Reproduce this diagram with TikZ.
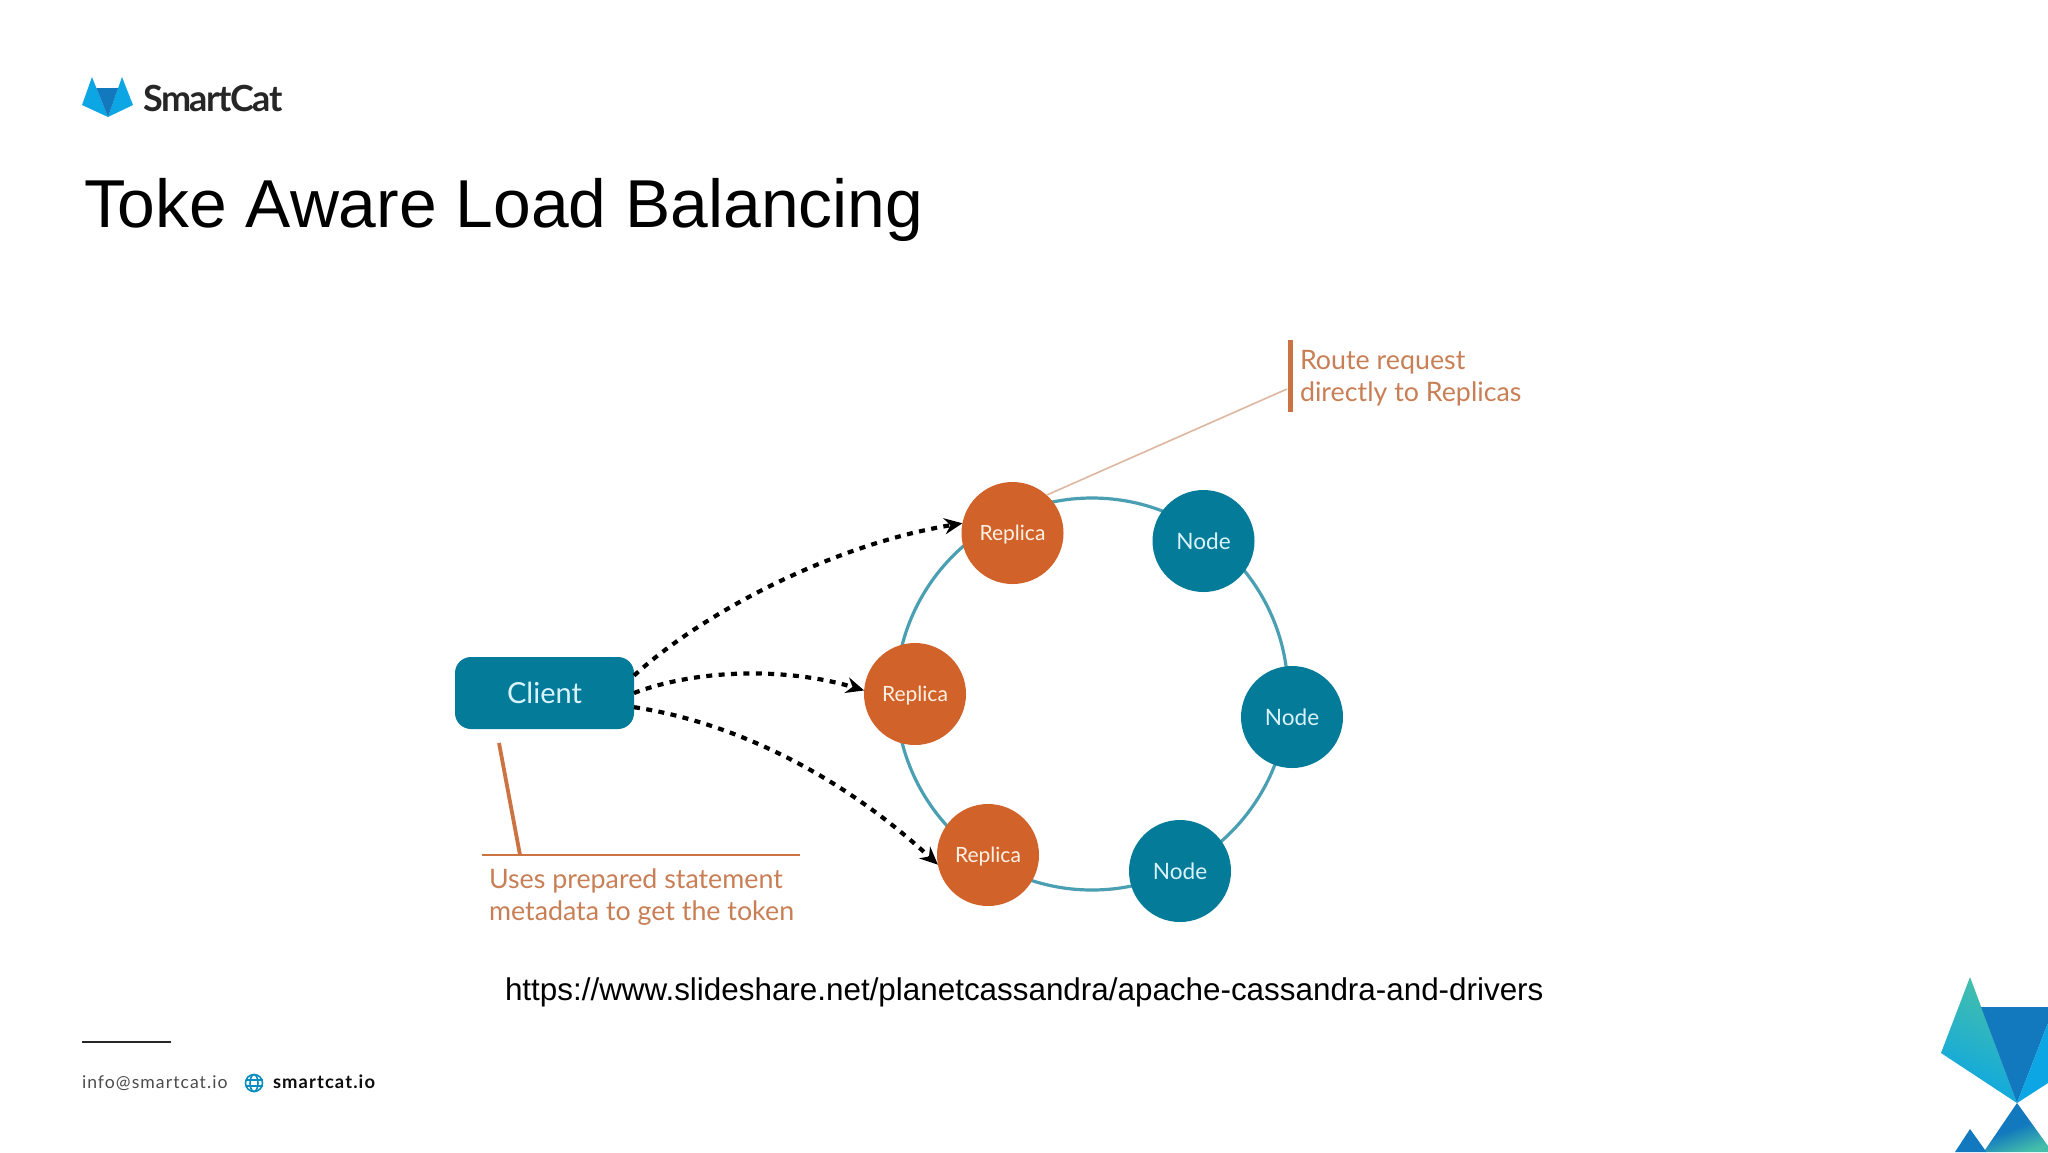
\documentclass[tikz,border=0pt]{standalone}
\usepackage{fontspec}
\setmainfont{Liberation Sans}
\newfontfamily\gill{Lato}
\newfontfamily\din[LetterSpace=6]{Lato}
\newfontfamily\brandf[LetterSpace=-4]{Lato}
\usetikzlibrary{arrows.meta}
\definecolor{rust}{HTML}{D1622A}
\definecolor{teal}{HTML}{047B99}
\definecolor{ringc}{HTML}{4A9FB2}
\definecolor{labelc}{HTML}{C97F55}
\definecolor{thinc}{HTML}{DDB79F}
\definecolor{skyb}{HTML}{0BA6E3}
\definecolor{deepb}{HTML}{1279BE}
\definecolor{tealg}{HTML}{45BFAA}
\tikzset{
  every node/.style={inner sep=0pt,outer sep=0pt},
  peer/.style={circle,minimum size=51pt,text=white,text depth=0pt},
  replica/.style={peer,fill=rust,text=white!90!orange,font=\gill\fontsize{10.5}{12}\selectfont},
  ringnode/.style={peer,fill=teal,text=white!85!cyan,font=\gill\fontsize{11.3}{12}\selectfont},
  call/.style={black,line width=2.1pt,dash pattern=on 3pt off 3.2pt,-{Stealth[length=9pt,width=8pt]}},
  note/.style={anchor=base west,text=labelc,font=\gill\fontsize{13.4}{15}\selectfont},
  tick/.style={draw=labelc!60!rust,line cap=butt}
}
\begin{document}
\begin{tikzpicture}[x=0.5pt,y=-0.5pt]
\useasboundingbox (0,0) rectangle (2048,1152);
\fill[white] (0,0) rectangle (2048,1152);

% logo
\fill[skyb] (82,105) -- (92,77) -- (108,117) -- cycle;
\fill[skyb] (133,105) -- (122,77) -- (108,117) -- cycle;
\fill[deepb] (96.4,88) -- (118.2,88) -- (108,117) -- cycle;
\node[anchor=base west,text=black!85,font=\brandf\bfseries\fontsize{18}{20}\selectfont] (brand) at (143,111) {SmartCat};

% title
\node[anchor=base west,font=\fontsize{33.9}{36}\selectfont] (title) at (84,227) {Toke Aware Load Balancing};

% ring
\node[circle,draw=ringc,line width=1.6pt,minimum size=196pt] (ring) at (1092,694) {};

% peers
\node[replica] (r1) at (1012.5,533) {Replica};
\node[replica] (r2) at (915,694) {Replica};
\node[replica] (r3) at (988,855) {Replica};
\node[ringnode] (n1) at (1203.5,541) {Node};
\node[ringnode] (n2) at (1292,717) {Node};
\node[ringnode] (n3) at (1180,871) {Node};

% client
\node[fill=teal,rounded corners=8pt,minimum width=89.5pt,minimum height=36pt,text=white!85!cyan,font=\gill\fontsize{14.5}{16}\selectfont] (client) at (544.5,693) {\raisebox{-0.7pt}{Client}};

% calls
\draw[call] (client.11) .. controls (700,615) and (830,545) .. (r1.169);
\draw[call] (client.0) .. controls (700,668) and (790,668) .. (r2.176);
\draw[call] (client.-9) .. controls (720,720) and (830,765) .. (r3.191);

% notes
\coordinate (t1) at (499,743);
\coordinate (t2) at (520,855);
\coordinate (u1) at (481.5,855);
\coordinate (u2) at (800,855);
\draw[tick,line width=1.9pt] (t1) -- (t2);
\draw[tick,line width=0.9pt] (u1) -- (u2);
\node[note] (n-uses) at (489,888) {Uses prepared statement};
\node[note] (n-meta) at (489,920) {metadata to get the token};

\coordinate (b1) at (1290,340);
\coordinate (b2) at (1290,412);
\coordinate (b3) at (1287,389);
\draw[tick,line width=2.5pt] (b1) -- (b2);
\draw[draw=thinc,line width=0.8pt] (r1.48) -- (b3);
\node[note] (n-route) at (1300,369) {Route request};
\node[note] (n-direct) at (1300,401) {directly to Replicas};

% url
\node[anchor=base west,font=\fontsize{15.7}{18}\selectfont] (url) at (505,1000) {https://www.slideshare.net/planetcassandra/apache-cassandra-and-drivers};

% footer
\coordinate (f1) at (82,1042);
\coordinate (f2) at (171,1042);
\draw[black!85,line width=1pt] (f1) -- (f2);
\node[anchor=base west,text=black!70,font=\din\fontsize{8.8}{10}\selectfont] (mail) at (82,1088) {info@smartcat.io};
\begin{scope}[draw=skyb!85!black,line width=0.8pt]
\draw (254,1083) circle (8.5);
\draw (254,1083) ellipse (4 and 8.5);
\draw (245.5,1080) -- (262.5,1080);
\draw (245.5,1086) -- (262.5,1086);
\end{scope}
\node[anchor=base west,text=black!95,font=\din\bfseries\fontsize{9.2}{10}\selectfont] (site) at (273,1088) {smartcat.io};

% corner mark
\shade[top color=tealg,bottom color=skyb,shading angle=-25] (1970,977) -- (1941,1053) -- (2017,1103) -- cycle;
\fill[deepb] (1981,1007) -- (2048,1007) -- (2048,1023) -- (2017,1103) -- cycle;
\fill[skyb] (2048,1023) -- (2017,1103) -- (2048,1083) -- cycle;
\shade[left color=deepb,right color=tealg,middle color=deepb,shading angle=20] (2017,1103) -- (2048,1146) -- (2048,1152) -- (1985,1152) -- (1985,1150) -- cycle;
\fill[deepb] (1970,1129) -- (1985,1150) -- (1986,1152) -- (1955,1152) -- cycle;
\end{tikzpicture}
\end{document}
